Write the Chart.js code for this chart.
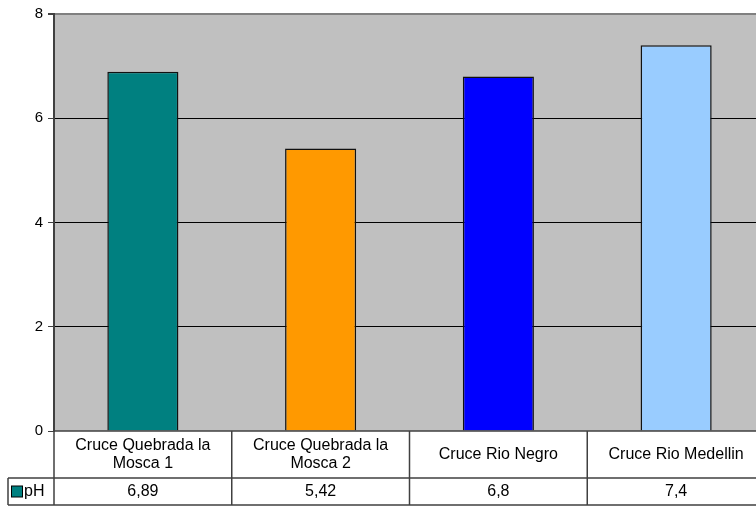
<!DOCTYPE html>
<html>
<head>
<meta charset="utf-8">
<script src="https://cdn.jsdelivr.net/npm/chart.js@4"></script>
<style>
  html, body { margin: 0; padding: 0; background: #fff; overflow: hidden; }
  #wrap { width: 756px; height: 509px; overflow: hidden; }
</style>
</head>
<body>
<div id="wrap"><canvas id="phChart" width="770" height="509"></canvas></div>
<script>
// DATA
const categories = [['Cruce Quebrada la', 'Mosca 1'], ['Cruce Quebrada la', 'Mosca 2'], 'Cruce Rio Negro', 'Cruce Rio Medellin'];
const seriesName = 'pH';
const phValues = [6.89, 5.42, 6.8, 7.4];
const yTicks = [0, 2, 4, 6, 8];

const barColors = ['#008080', '#FF9900', '#0000FF', '#99CCFF'];
const FONT = 'Liberation Sans, Arial, sans-serif';

// gray plot area
const plotBackground = {
    id: 'plotBackground',
    beforeDraw(chart) {
        const { ctx, chartArea } = chart;
        ctx.save();
        ctx.fillStyle = '#C0C0C0';
        ctx.fillRect(chartArea.left, chartArea.top, chartArea.right - chartArea.left, chartArea.bottom - chartArea.top);
        ctx.restore();
    }
};

// data table under the plot
const dataTable = {
    id: 'dataTable',
    afterDraw(chart) {
        const { ctx, chartArea } = chart;
        const x = chart.scales.x;
        const half = (x.getPixelForValue(1) - x.getPixelForValue(0)) / 2;
        const top = chartArea.bottom;
        const mid = 478;
        const bottom = 505;
        const leftCell = 8;

        ctx.save();
        ctx.strokeStyle = '#404040';
        ctx.lineWidth = 1.5;
        ctx.beginPath();
        ctx.moveTo(chartArea.left, top); ctx.lineTo(chart.width, top);
        ctx.moveTo(leftCell, mid); ctx.lineTo(chart.width, mid);
        ctx.moveTo(leftCell, bottom); ctx.lineTo(chart.width, bottom);
        ctx.moveTo(leftCell, mid); ctx.lineTo(leftCell, bottom);
        ctx.moveTo(chartArea.left, top); ctx.lineTo(chartArea.left, bottom);
        categories.forEach((c, i) => {
            const r = x.getPixelForValue(i) + half;
            ctx.moveTo(r, top); ctx.lineTo(r, bottom);
        });
        ctx.stroke();

        ctx.fillStyle = '#000';
        ctx.font = '16px ' + FONT;
        ctx.textAlign = 'center';
        ctx.textBaseline = 'middle';
        const lineH = 18;
        categories.forEach((c, i) => {
            const lines = Array.isArray(c) ? c : [c];
            const cx = x.getPixelForValue(i);
            const cy = (top + mid) / 2 - (lines.length - 1) * lineH / 2;
            lines.forEach((l, j) => ctx.fillText(l, cx, cy + j * lineH));
            ctx.fillText(String(phValues[i]).replace('.', ','), cx, (mid + bottom) / 2);
        });

        // legend key
        const ky = (mid + bottom) / 2;
        ctx.fillStyle = barColors[0];
        ctx.fillRect(11.5, ky - 5.5, 11, 11);
        ctx.strokeStyle = '#000';
        ctx.lineWidth = 1;
        ctx.strokeRect(11.5, ky - 5.5, 11, 11);
        ctx.fillStyle = '#000';
        ctx.textAlign = 'left';
        ctx.fillText(seriesName, 24, ky);
        ctx.restore();
    }
};

const phChart = new Chart(document.getElementById('phChart'), {
    type: 'bar',
    data: {
        labels: categories,
        datasets: [{
            label: seriesName,
            data: phValues,
            backgroundColor: barColors,
            borderColor: '#111',
            borderWidth: 1.5,
            barPercentage: 0.4,
            categoryPercentage: 1.0,
        }]
    },
    options: {
        responsive: false,
        animation: false,
        layout: {
            padding: { top: 13, right: 5, bottom: 78, left: 0 }
        },
        scales: {
            x: {
                display: false,
            },
            y: {
                min: 0,
                max: 8,
                afterFit: (scale) => { scale.width = 54; },
                afterBuildTicks: (scale) => { scale.ticks = yTicks.map(v => ({ value: v })); },
                border: {
                    color: '#404040',
                    width: 2,
                },
                grid: {
                    color: (c) => c.tick.value === 8 ? '#808080' : (c.tick.value === 0 ? 'rgba(0,0,0,0)' : '#000'),
                    lineWidth: (c) => c.tick.value === 8 ? 2 : 1,
                    tickColor: '#404040',
                    tickLength: 6,
                },
                ticks: {
                    color: '#000',
                    padding: 5,
                    font: {
                        family: FONT,
                        size: 15,
                    },
                },
            },
        },
        plugins: {
            legend: { display: false },
            tooltip: { enabled: false },
        }
    },
    plugins: [plotBackground, dataTable]
});
</script>
</body>
</html>
